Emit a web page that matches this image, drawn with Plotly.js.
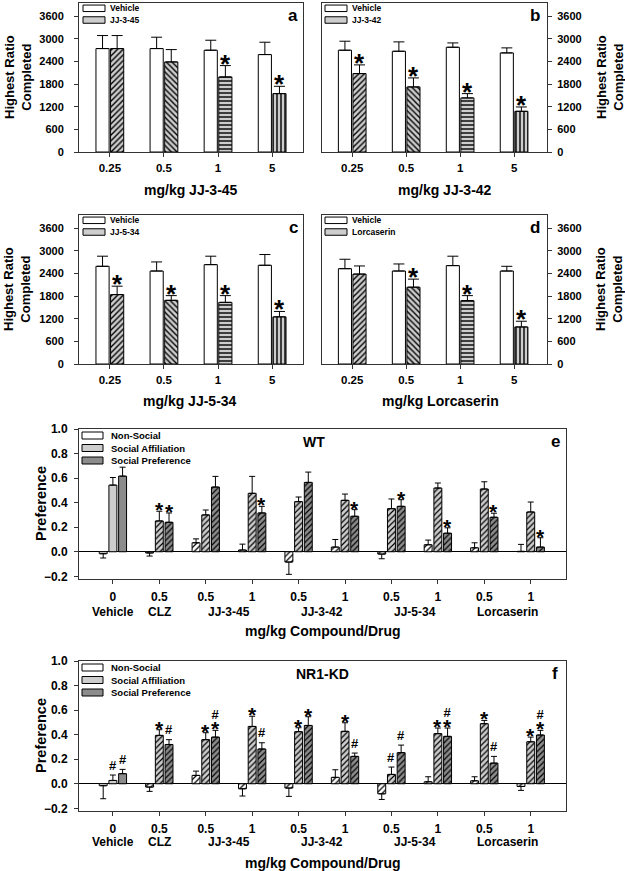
<!DOCTYPE html>
<html><head><meta charset="utf-8">
<script src="https://cdn.plot.ly/plotly-3.0.1.min.js"></script>
<style>html,body{margin:0;padding:0;background:#fff}#chart{width:625px;height:871px}</style>
</head><body><div id="chart"></div>
<script>
// ---------------- DATA ----------------
const doseTicks = ['0.25', '0.5', '1', '5'];

// Panel a: JJ-3-45
const vehicleA = [2742, 2742, 2698, 2583];
const vehicleA_sem = [345, 301, 265, 327];
const drugA = [2742, 2388, 1990, 1548];
const drugA_sem = [345, 327, 301, 194];
const drugA_sig = ['', '', '*', '*'];

// Panel b: JJ-3-42
const vehicleB = [2698, 2671, 2777, 2627];
const vehicleB_sem = [239, 248, 115, 133];
const drugB = [2079, 1725, 1433, 1079];
const drugB_sem = [230, 239, 115, 115];
const drugB_sig = ['*', '*', '*', '*'];

// Panel c: JJ-5-34
const vehicleC = [2590, 2465, 2634, 2617];
const vehicleC_sem = [268, 241, 224, 285];
const drugC = [1840, 1688, 1634, 1250];
const drugC_sem = [223, 125, 179, 143];
const drugC_sig = ['*', '*', '*', '*'];

// Panel d: Lorcaserin
const vehicleD = [2527, 2465, 2608, 2465];
const vehicleD_sem = [250, 187, 250, 125];
const drugD = [2384, 2036, 1679, 982];
const drugD_sem = [215, 214, 134, 152];
const drugD_sig = ['', '*', '*', '*'];

const drugNames = ['JJ-3-45', 'JJ-3-42', 'JJ-5-34', 'Lorcaserin'];

// Panels e/f: social preference
const socialTreat = ['Vehicle', 'CLZ', 'JJ-3-45', 'JJ-3-45', 'JJ-3-42', 'JJ-3-42', 'JJ-5-34', 'JJ-5-34', 'Lorcaserin', 'Lorcaserin'];
const socialDose = ['0', '0.5', '0.5', '1', '0.5', '1', '0.5', '1', '0.5', '1'];
const seriesNames = ['Non-Social', 'Social Affiliation', 'Social Preference'];

// e: WT
const wtNonSocial = [-0.016, -0.010, 0.073, 0.014, -0.084, 0.038, -0.019, 0.057, 0.032, 0.003];
const wtNonSocial_sem = [0.035, 0.025, 0.032, 0.048, 0.100, 0.062, 0.038, 0.038, 0.041, 0.057];
const wtAffiliation = [0.543, 0.251, 0.300, 0.476, 0.408, 0.419, 0.351, 0.519, 0.511, 0.324];
const wtAffiliation_sem = [0.062, 0.079, 0.040, 0.138, 0.038, 0.051, 0.079, 0.041, 0.059, 0.081];
const wtPreference = [0.616, 0.240, 0.527, 0.316, 0.565, 0.289, 0.370, 0.151, 0.281, 0.038];
const wtPreference_sem = [0.073, 0.076, 0.087, 0.054, 0.084, 0.054, 0.054, 0.044, 0.033, 0.076];
const wtAffiliation_sig = ['', '*', '', '', '', '', '', '', '', ''];
const wtPreference_sig = ['', '*', '', '*', '', '*', '*', '*', '*', '*'];

// f: NR1-KD
const kdNonSocial = [-0.016, -0.027, 0.068, -0.041, -0.035, 0.052, -0.082, 0.016, 0.024, -0.022];
const kdNonSocial_sem = [0.106, 0.035, 0.035, 0.059, 0.068, 0.062, 0.046, 0.041, 0.033, 0.032];
const kdAffiliation = [0.027, 0.394, 0.359, 0.467, 0.424, 0.427, 0.076, 0.408, 0.489, 0.342];
const kdAffiliation_sem = [0.044, 0.046, 0.057, 0.083, 0.032, 0.070, 0.060, 0.046, 0.027, 0.038];
const kdPreference = [0.082, 0.320, 0.380, 0.283, 0.475, 0.223, 0.253, 0.386, 0.168, 0.397];
const kdPreference_sem = [0.035, 0.039, 0.055, 0.051, 0.071, 0.027, 0.062, 0.068, 0.055, 0.038];
const kdAffiliation_sig = ['#', '*', '*', '*', '*', '*', '#', '*', '*', '*'];
const kdPreference_sig = ['#', '#', '*#', '#', '*', '#', '#', '*#', '#', '*#'];

// ---------------- STYLE ----------------
const W = 625, H = 871;
const PX = x => x / W;
const PY = y => 1 - y / H;
const FONT = '"Liberation Sans", Arial, sans-serif';
const LIGHT = '#cdcdcd', DARK = '#8c8c8c', AXC = '#333333';
const dosePatterns = ['/', '\\', '-', '|'];

// bar geometry a-d (two bars per group)
const slot2 = 0.27, bw2 = 0.243;
// bar geometry e/f (three bars per group)
const slot3 = 0.209, bw3 = 0.171;

const traces = [];
const annotations = [];
const shapes = [];
const layout = {
  width: W, height: H, margin: {l: 0, r: 0, t: 0, b: 0},
  paper_bgcolor: '#fff', plot_bgcolor: '#fff', showlegend: false,
  barmode: 'overlay', font: {family: FONT, color: '#000'},
  annotations, shapes
};

function errs(vals, sem) {
  return {
    type: 'data', symmetric: false,
    array: vals.map((v, i) => v >= 0 ? sem[i] : 0),
    arrayminus: vals.map((v, i) => v < 0 ? sem[i] : 0),
    color: '#000', thickness: 1
  };
}

// significance marks: '*' star, '#' hash, '*#' hash stacked above star
function sigMarks(xa, ya, xs, tops, marks, starSize, starShift) {
  const HASH = 13;
  marks.forEach((m, i) => {
    if (!m) return;
    const base = {xref: xa, yref: ya, x: xs[i], y: tops[i], showarrow: false, borderpad: 0,
      xanchor: 'center', yanchor: 'bottom'};
    if (m === '*') annotations.push(Object.assign(base, {text: '*', yshift: starShift,
      font: {size: starSize, weight: 'bold', family: FONT}}));
    else if (m === '#') annotations.push(Object.assign(base, {text: '#', yshift: 1.5,
      font: {size: HASH, weight: 'bold', family: FONT}}));
    else annotations.push(Object.assign(base, {text: '#<br><span style="font-size:' + starSize + 'px">*</span>',
      yshift: starShift, font: {size: HASH, weight: 'bold', family: FONT}}));
  });
}

function pageText(x, y, text, size, opts) {
  annotations.push(Object.assign({xref: 'paper', yref: 'paper', x: PX(x), y: PY(y), text, showarrow: false,
    xanchor: 'center', yanchor: 'middle', font: {size, weight: 'bold', family: FONT}}, opts || {}));
}

function legendBox(x0, x1, yc, h, color, label, tx, size) {
  shapes.push({type: 'rect', xref: 'paper', yref: 'paper', x0: PX(x0), x1: PX(x1), y0: PY(yc + h / 2), y1: PY(yc - h / 2),
    fillcolor: color, line: {color: '#000', width: 1}});
  pageText(tx, yc, label, size, {xanchor: 'left'});
}

// ---------------- PANELS a-d ----------------
const panels = [
  {veh: vehicleA, vs: vehicleA_sem, drug: drugA, ds: drugA_sem, sig: drugA_sig, name: drugNames[0], letter: 'a',
   xd: [79, 303], yd: [3, 152], xr: [-0.57, 3.57], side: 'left', tso: 8, titleX: 191, titleY: 190, yTitleX: 17.5, lx: [83, 105], tx: 108},
  {veh: vehicleB, vs: vehicleB_sem, drug: drugB, ds: drugB_sem, sig: drugB_sig, name: drugNames[1], letter: 'b',
   xd: [322, 547], yd: [3, 152], xr: [-0.56, 3.61], side: 'right', tso: 3, titleX: 445, titleY: 190, yTitleX: 609.5, lx: [325, 347], tx: 350},
  {veh: vehicleC, vs: vehicleC_sem, drug: drugC, ds: drugC_sem, sig: drugC_sig, name: drugNames[2], letter: 'c',
   xd: [79, 303], yd: [215, 364], xr: [-0.57, 3.57], side: 'left', tso: 8, titleX: 190, titleY: 401, yTitleX: 17.5, lx: [83, 105], tx: 108},
  {veh: vehicleD, vs: vehicleD_sem, drug: drugD, ds: drugD_sem, sig: drugD_sig, name: drugNames[3], letter: 'd',
   xd: [322, 547], yd: [215, 364], xr: [-0.56, 3.61], side: 'right', tso: 3, titleX: 440, titleY: 401, yTitleX: 609.5, lx: [325, 347], tx: 350}
];

panels.forEach((p, k) => {
  const n = k + 1;
  const xa = n === 1 ? 'x' : 'x' + n, ya = n === 1 ? 'y' : 'y' + n;
  const xs = doseTicks.map((_, i) => i);
  layout['xaxis' + (n === 1 ? '' : n)] = {
    domain: [PX(p.xd[0]), PX(p.xd[1])], range: p.xr, anchor: ya,
    tickmode: 'array', tickvals: xs, ticktext: doseTicks, ticks: 'outside', ticklen: 4, tickcolor: AXC,
    ticklabelstandoff: 1,
    showline: true, mirror: true, linecolor: AXC, linewidth: 1, showgrid: false, zeroline: false,
    tickfont: {size: 11.5, weight: 'bold', family: FONT}, fixedrange: true
  };
  layout['yaxis' + (n === 1 ? '' : n)] = {
    domain: [PY(p.yd[1]), PY(p.yd[0])], range: [0, 3950], anchor: xa, side: p.side,
    tickmode: 'array', tickvals: [0, 600, 1200, 1800, 2400, 3000, 3600], ticks: 'outside', ticklen: 4, tickcolor: AXC,
    ticklabelstandoff: p.tso,
    showline: true, mirror: true, linecolor: AXC, linewidth: 1, showgrid: false, zeroline: false,
    tickfont: {size: 11, weight: 'bold', family: FONT}, fixedrange: true
  };
  traces.push({type: 'bar', name: 'Vehicle', x: xs, y: p.veh, xaxis: xa, yaxis: ya,
    width: bw2, offset: -slot2 / 2 - bw2 / 2,
    marker: {color: '#fff', line: {color: '#000', width: 1}}, error_y: Object.assign(errs(p.veh, p.vs), {width: 5.5})});
  traces.push({type: 'bar', name: p.name, x: xs, y: p.drug, xaxis: xa, yaxis: ya,
    width: bw2, offset: slot2 / 2 - bw2 / 2,
    marker: {color: LIGHT, line: {color: '#000', width: 1},
      pattern: {shape: dosePatterns, fgcolor: '#000', bgcolor: LIGHT, size: 4, solidity: 0.35, fillmode: 'replace'}},
    error_y: Object.assign(errs(p.drug, p.ds), {width: 5.5})});
  sigMarks(xa, ya, xs.map(x => x + slot2 / 2), p.drug.map((v, i) => v + p.ds[i]), p.sig, 26, -14);
  // legend
  const ly = p.yd[0];
  legendBox(p.lx[0], p.lx[1], ly + 5.3, 6.5, '#fff', 'Vehicle', p.tx, 8.5);
  legendBox(p.lx[0], p.lx[1], ly + 17, 6.5, LIGHT, p.name, p.tx, 8.5);
  // letter
  pageText(p.side === 'left' ? 293 : 534.5, ly + 12.5, p.letter, 17);
  // titles
  pageText(p.titleX, p.titleY, 'mg/kg ' + p.name, 14);
  pageText(p.yTitleX, (p.yd[0] + p.yd[1]) / 2, 'Highest Ratio<br>Completed', 13, {textangle: -90});
});

// ---------------- PANELS e/f ----------------
const social = [
  {vals: [wtNonSocial, wtAffiliation, wtPreference], sems: [wtNonSocial_sem, wtAffiliation_sem, wtPreference_sem],
   sigs: [null, wtAffiliation_sig, wtPreference_sig], title: 'WT', titleX: 313.5, letter: 'e', yd: [429, 579],
   nameY: 611.7, xtY: 631},
  {vals: [kdNonSocial, kdAffiliation, kdPreference], sems: [kdNonSocial_sem, kdAffiliation_sem, kdPreference_sem],
   sigs: [null, kdAffiliation_sig, kdPreference_sig], title: 'NR1-KD', titleX: 322, letter: 'f', yd: [661, 811],
   nameY: 842, xtY: 863}
];
const seriesColors = ['#fff', LIGHT, DARK];
const groupNames = [...new Set(socialTreat)];

social.forEach((s, k) => {
  const n = k + 5;
  const xa = 'x' + n, ya = 'y' + n;
  const xs = socialDose.map((_, i) => i);
  layout['xaxis' + n] = {
    domain: [PX(79), PX(566)], range: [-0.73, 9.76], anchor: ya,
    tickmode: 'array', tickvals: xs, ticktext: socialDose, ticks: 'outside', ticklen: 4, tickcolor: AXC,
    ticklabelstandoff: 3,
    showline: true, mirror: true, linecolor: AXC, linewidth: 1, showgrid: false, zeroline: false,
    tickfont: {size: 12, weight: 'bold', family: FONT}, fixedrange: true
  };
  layout['yaxis' + n] = {
    domain: [PY(s.yd[1]), PY(s.yd[0])], range: [-0.222, 1.0], anchor: xa,
    tickmode: 'array', tickvals: [-0.2, 0, 0.2, 0.4, 0.6, 0.8, 1.0], tickformat: '.1f', ticks: 'outside', ticklen: 4, tickcolor: AXC,
    ticklabelstandoff: 4,
    showline: true, mirror: true, linecolor: AXC, linewidth: 1, showgrid: false,
    zeroline: true, zerolinecolor: '#000', zerolinewidth: 1,
    tickfont: {size: 12, weight: 'bold', family: FONT}, fixedrange: true
  };
  s.vals.forEach((vals, j) => {
    const center = (j - 1) * slot3;
    traces.push({type: 'bar', name: seriesNames[j], x: xs, y: vals, xaxis: xa, yaxis: ya,
      width: bw3, offset: center - bw3 / 2,
      marker: {color: seriesColors[j], line: {color: '#000', width: 1},
        pattern: {shape: socialTreat.map(t => t === 'Vehicle' ? '' : '/'), fgcolor: '#000', bgcolor: seriesColors[j],
          size: 4, solidity: 0.3, fillmode: 'replace'}},
      error_y: Object.assign(errs(vals, s.sems[j]), {width: 3})});
    if (s.sigs[j]) sigMarks(xa, ya, xs.map(x => x + center), vals.map((v, i) => v + s.sems[j][i]), s.sigs[j], 21, -11);
  });
  // legend
  const ly = s.yd[0];
  seriesNames.forEach((nm, j) => legendBox(82, 103, ly + 6.5 + 12.5 * j, 7, seriesColors[j], nm, 109, 9.5));
  pageText(s.titleX, ly + 13, s.title, 14);
  pageText(555, ly + 12.5, s.letter, 17);
  // x tick group names
  groupNames.forEach(g => {
    const idx = socialTreat.map((t, i) => t === g ? i : -1).filter(i => i >= 0);
    const mid = idx.reduce((a, b) => a + b, 0) / idx.length;
    annotations.push({xref: xa, yref: 'paper', x: mid, y: PY(s.nameY), text: g, showarrow: false,
      xanchor: 'center', yanchor: 'middle', font: {size: 12, weight: 'bold', family: FONT}});
  });
  pageText(323, s.xtY, 'mg/kg Compound/Drug', 14);
  pageText(41, (s.yd[0] + s.yd[1]) / 2, 'Preference', 14.5, {textangle: -90});
});

Plotly.newPlot('chart', traces, layout, {displayModeBar: false, staticPlot: true});
</script>
</body></html>
